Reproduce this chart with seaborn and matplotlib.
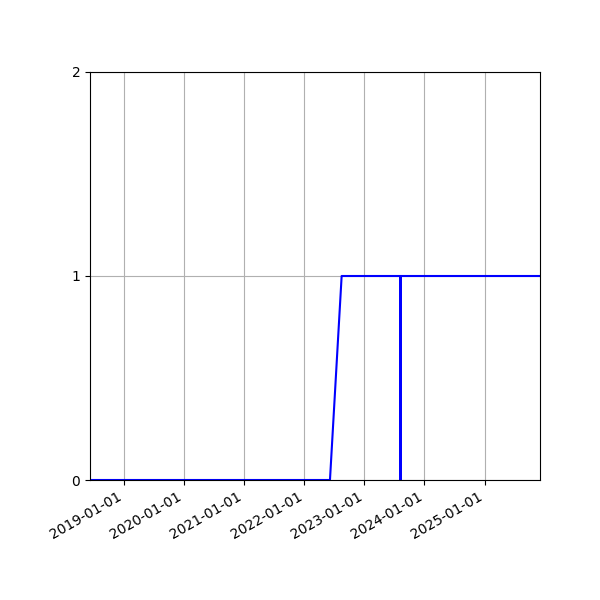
import matplotlib
matplotlib.use("Agg")
import matplotlib.pyplot as plt
import matplotlib.dates as mdates
import seaborn as sns
import pandas as pd

dates = ["2018-06-08", "2022-06-06", "2022-08-16", "2023-08-09", "2023-08-09", "2023-08-09", "2025-12-04"]
values = [0, 0, 1, 1, 0, 1, 1]
tick_dates = ["2019-01-01", "2020-01-01", "2021-01-01", "2022-01-01", "2023-01-01", "2024-01-01", "2025-01-01"]

df = pd.DataFrame({"date": pd.to_datetime(dates), "value": values})

fig = plt.figure(figsize=(6, 6), dpi=100)
ax = fig.add_axes([0.15, 0.2, 0.75, 0.68])
sns.lineplot(data=df, x="date", y="value", ax=ax, color="blue", linewidth=1.5,
             estimator=None, sort=False)
ax.set_xlim(df["date"].min(), df["date"].max())
ax.set_ylim(0, 2)
ax.set_yticks([0, 1, 2])
ax.set_xticks(pd.to_datetime(tick_dates))
ax.xaxis.set_major_formatter(mdates.DateFormatter("%Y-%m-%d"))
ax.set_xlabel("")
ax.set_ylabel("")
ax.grid(True)
for lbl in ax.get_xticklabels():
    lbl.set_rotation(30)
    lbl.set_ha("right")
fig.savefig("out.png", dpi=100)
